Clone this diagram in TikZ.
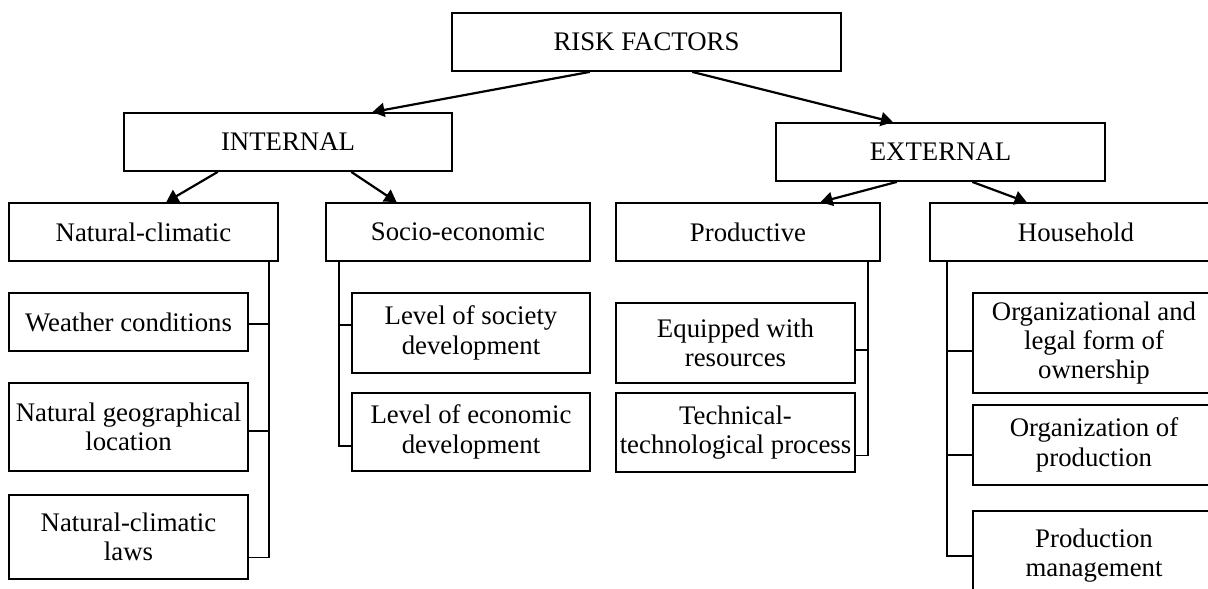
\documentclass[tikz,border=0pt]{standalone}
\usepackage{fontspec}
\setmainfont{Liberation Serif}
\usetikzlibrary{arrows.meta,calc}

\begin{document}
\begin{tikzpicture}[x=0.5pt,y=-0.5pt,
    box/.style={draw,line width=0.9pt,inner sep=0pt,align=center},
    boxsize/.style 2 args={minimum width=#1*0.5pt,minimum height=#2*0.5pt},
    arr/.style={line width=1.1pt,-{Triangle[length=6pt,width=7pt]}},
    link/.style={line width=0.9pt}]
    \fontsize{13.4pt}{14.6pt}\selectfont
    \useasboundingbox (0,0) rectangle (1208,588);

    % top levels
    \node [box,boxsize={389}{58}] (risk) at (646.5,42) {RISK FACTORS};
    \node [box,boxsize={328}{58}] (internal) at (288,142) {INTERNAL};
    \node [box,boxsize={329}{58}] (external) at (940.5,152) {EXTERNAL};

    \node [box,boxsize={269}{58}] (natcl) at (143.5,232) {Natural-climatic};
    \node [box,boxsize={264}{58}] (socio) at (458,232) {Socio-economic};
    \node [box,boxsize={264}{58}] (product) at (748,232) {Productive};
    \node [box,boxsize={292}{58}] (house) at (1076,232) {Household};

    % sub-factors
    \node [box,boxsize={239}{58}] (weather) at (128.5,322) {Weather conditions};
    \node [box,boxsize={239}{88}] (geo) at (128.5,427) {Natural geographical\\location};
    \node [box,boxsize={239}{84}] (laws) at (128.5,537) {Natural-climatic\\laws};

    \node [box,boxsize={238}{80}] (society) at (471,333) {Level of society\\development};
    \node [box,boxsize={238}{78}] (economic) at (471,432) {Level of economic\\development};

    \node [box,boxsize={239}{80}] (equip) at (735.5,343) {Equipped with\\resources};
    \node [box,boxsize={239}{79}] (techn) at (735.5,432.5) {Technical-\\technological process};

    \node [box,boxsize={242}{100}] (org) at (1094,343) {Organizational and\\legal form of\\ownership};
    \node [box,boxsize={242}{80}] (orgprod) at (1094,445) {Organization of\\production};
    \node [box,boxsize={242}{89}] (manage) at (1094,555.5) {Production\\management};

    % arrows
    \draw [arr] ($(risk.south west)!.355!(risk.south east)$) -- ($(internal.north west)!.756!(internal.north east)$);
    \draw [arr] ($(risk.south west)!.617!(risk.south east)$) -- ($(external.north west)!.356!(external.north east)$);
    \draw [arr] ($(internal.south west)!.287!(internal.south east)$) -- ($(natcl.north west)!.584!(natcl.north east)$);
    \draw [arr] ($(internal.south west)!.692!(internal.south east)$) -- ($(socio.north west)!.269!(socio.north east)$);
    \draw [arr] ($(external.south west)!.368!(external.south east)$) -- ($(product.north west)!.773!(product.north east)$);
    \draw [arr] ($(external.south west)!.596!(external.south east)$) -- ($(house.north west)!.332!(house.north east)$);

    % bars
    \coordinate (ncbar) at ($(natcl.south west)!.963!(natcl.south east)$);
    \coordinate (scbar) at ($(socio.south west)!.053!(socio.south east)$);
    \coordinate (prbar) at ($(product.south west)!.951!(product.south east)$);
    \coordinate (hsbar) at ($(house.south west)!.062!(house.south east)$);

    \foreach \n/\f in {weather/.53,geo/.545,laws/.74}
        \draw [link] ($(\n.north east)!\f!(\n.south east)$) -| (ncbar);
    \foreach \n/\f in {society/.4,economic/.68}
        \draw [link] ($(\n.north west)!\f!(\n.south west)$) -| (scbar);
    \foreach \n/\f in {equip/.59,techn/.785}
        \draw [link] ($(\n.north east)!\f!(\n.south east)$) -| (prbar);
    \foreach \n/\f in {org/.58,orgprod/.625,manage/.506}
        \draw [link] ($(\n.north west)!\f!(\n.south west)$) -| (hsbar);
\end{tikzpicture}
\end{document}
